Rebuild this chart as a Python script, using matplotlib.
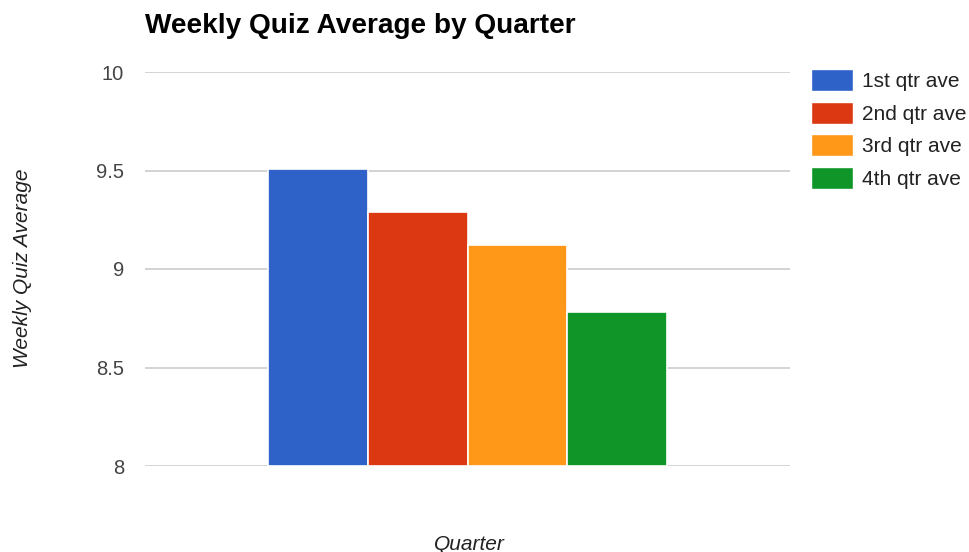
import matplotlib
matplotlib.use("Agg")
import matplotlib.pyplot as plt
from matplotlib.patches import Patch

plt.rcParams['font.family'] = ['Liberation Sans', 'DejaVu Sans']

series_names = ["1st qtr ave", "2nd qtr ave", "3rd qtr ave", "4th qtr ave"]
series_values = [9.51, 9.29, 9.12, 8.78]
colors = ["#2e62c9", "#dc3912", "#ff9818", "#109628"]
y_ticks = [8, 8.5, 9, 9.5, 10]
y_tick_labels = ["8", "8.5", "9", "9.5", "10"]

fig = plt.figure(figsize=(9.69, 5.52), dpi=100)
ax = fig.add_axes([145/969, 1-466/552, (790-145)/969, (466-72)/552])

group_width = 0.618
n = len(series_values)
bw = group_width / n
for i, (v, c, name) in enumerate(zip(series_values, colors, series_names)):
    x = -group_width/2 + bw*(i+0.5)
    ax.bar(x, v - 8, bottom=8, width=bw, color=c, edgecolor="white", linewidth=1.2,
           label=name, zorder=3)

ax.set_xlim(-0.5, 0.5)
ax.set_ylim(8, 10)
ax.set_yticks(y_ticks)
ax.set_yticklabels(y_tick_labels, fontsize=14.5, color="#444444")
ax.tick_params(axis='y', length=0, pad=15)
ax.set_xticks([])
ax.grid(axis='y', color="#cccccc", linewidth=1.2, zorder=0)
for s in ax.spines.values():
    s.set_visible(False)

fig.text(145/969, 1-26/552, "Weekly Quiz Average by Quarter", fontsize=20.2,
         fontweight='bold', ha='left', va='center', color="black")
fig.text(23/969, 1-268/552, "Weekly Quiz Average", fontsize=15, style='italic',
         rotation=90, ha='center', va='center', color="#222222")
fig.text(469/969, 1-544/552, "Quarter", fontsize=15, style='italic',
         ha='center', va='center', color="#222222")

handles = [Patch(facecolor=c, edgecolor="white", label=nm) for c, nm in zip(colors, series_names)]
fig.legend(handles=handles, loc='upper left', bbox_to_anchor=(811/969, 1-69/552),
           frameon=False, fontsize=15, handlelength=2.0, handleheight=1.25,
           handletextpad=0.43, labelspacing=0.51, borderaxespad=0, borderpad=0,
           labelcolor="#222222")

fig.savefig("out.png", dpi=100)
